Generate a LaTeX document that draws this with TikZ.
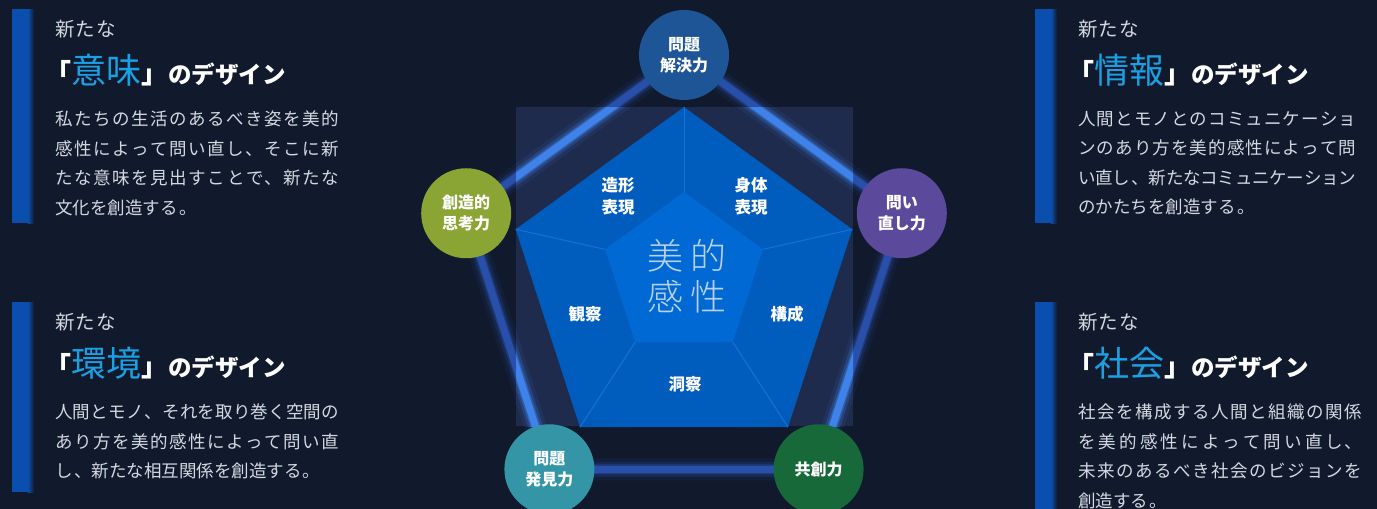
\documentclass[tikz,border=0pt]{standalone}
\usepackage{fontspec}
\setmainfont{Noto Sans CJK JP}
\newfontfamily\lightfont{Noto Sans CJK JP Light}
\XeTeXlinebreaklocale "ja"
\XeTeXlinebreakskip=0pt plus 5pt minus 2pt
\setlength{\parindent}{0pt}

\definecolor{bgnavy}{HTML}{111A2D}
\definecolor{boxnavy}{HTML}{1E2B4D}
\definecolor{barblue}{HTML}{0B4FAE}
\definecolor{keyblue}{HTML}{1AA0E3}
\definecolor{bodygray}{HTML}{D4D8E0}
\definecolor{glowdim}{HTML}{2850AA}
\definecolor{glowlit}{HTML}{3F82EA}
\definecolor{pentdark}{HTML}{004A9C}
\definecolor{pentmid}{HTML}{005DBE}
\definecolor{pentcore}{HTML}{0069D3}
\definecolor{pentline}{HTML}{1A70D8}
\definecolor{sensetext}{HTML}{B8D2EE}
\definecolor{skillblue}{HTML}{1D5597}
\definecolor{skillpurple}{HTML}{5B4A9C}
\definecolor{skillgreen}{HTML}{17693A}
\definecolor{skillteal}{HTML}{3495A7}
\definecolor{skillolive}{HTML}{8AA533}

\pgfdeclareradialshading{pentshade}{\pgfpoint{0bp}{0bp}}{color(0bp)=(pentmid); color(25bp)=(pentmid); color(50bp)=(pentdark)}

\newcommand{\keyword}[1]{{\mdseries\fontsize{35}{35}\selectfont\color{keyblue}#1}}
\newcommand{\kakko}[1]{{\fontsize{27}{27}\selectfont #1}}

\begin{document}
\begin{tikzpicture}[x=1pt, y=-1pt,
    glow/.style={draw=#1, line width=7pt,
        preaction={draw=#1, line width=22pt, opacity=0.1},
        preaction={draw=#1, line width=15pt, opacity=0.22},
        preaction={draw=#1, line width=10pt, opacity=0.45}},
    skill/.style={circle, minimum size=90pt, inner sep=0pt, text=white, align=center,
        font=\bfseries\fontsize{16}{21}\selectfont},
    facet/.style={text=white, align=center, font=\bfseries\fontsize{16.5}{22}\selectfont},
    kicker/.style={anchor=base west, inner sep=0pt, text=bodygray,
        font=\fontsize{19.5}{19.5}\selectfont\addfontfeature{LetterSpace=6}},
    heading/.style={anchor=base west, inner sep=0pt, text=white,
        font=\bfseries\fontsize{23.5}{23.5}\selectfont},
    body/.style={anchor=north west, inner sep=0pt, text width=284pt, align=justify, text=bodygray,
        font=\fontsize{17.5}{29.4}\selectfont\addfontfeature{LetterSpace=8}}]

    \useasboundingbox (0,0) rectangle (1377,509);
    \fill[bgnavy] (0,0) rectangle (1377,509);

    % skill ring
    \coordinate (kaiketsu-c) at ([shift={(684,284)}]-90:229);
    \coordinate (toinaoshi-c) at ([shift={(684,284)}]-18:229);
    \coordinate (kyousou-c) at ([shift={(684,284)}]54:229);
    \coordinate (hakken-c) at ([shift={(684,284)}]126:229);
    \coordinate (souzou-c) at ([shift={(684,284)}]198:229);
    \draw[glow=glowdim] (kaiketsu-c) -- (toinaoshi-c) -- (kyousou-c) -- (hakken-c) -- (souzou-c) -- cycle;

    % box behind the pentagon
    \fill[boxnavy] (516,107) rectangle (853,426);
    \begin{scope}
        \clip (516,107) rectangle (853,426);
        \draw[glow=glowlit] (kaiketsu-c) -- (toinaoshi-c) -- (kyousou-c) -- (hakken-c) -- (souzou-c) -- cycle;
    \end{scope}

    % pentagon
    \foreach \a [count=\i] in {-90,-18,54,126,198} {
        \coordinate (o\i) at ([shift={(684,284)}]\a:177);
        \coordinate (n\i) at ([shift={(684,275)}]\a:83);
    }
    \shade[shading=pentshade] (o1) -- (o2) -- (o3) -- (o4) -- (o5) -- cycle;
    \foreach \i in {1,...,5}
        \draw[pentline, line width=1pt] (n\i) -- (o\i);
    \fill[pentcore] (n1) -- (n2) -- (n3) -- (n4) -- (n5) -- cycle;

    \node[facet] (zoukei) at (618,196) {造形\\表現};
    \node[facet] (shintai) at (751,196) {身体\\表現};
    \node[facet] (kansatsu) at (585,314) {観察};
    \node[facet] (kousei) at (787,314) {構成};
    \node[facet] (dousatsu) at (685,384) {洞察};
    \node[text=sensetext, align=center, font=\lightfont\fontsize{36}{41}\selectfont\addfontfeature{LetterSpace=17}]
        (biteki) at (687,276) {美的\\感性};

    \node[skill, fill=skillblue] (kaiketsu) at (kaiketsu-c) {問題\\解決力};
    \node[skill, fill=skillpurple] (toinaoshi) at (toinaoshi-c) {問い\\直し力};
    \node[skill, fill=skillgreen] (kyousou) at (kyousou-c) {共創力};
    \node[skill, fill=skillteal] (hakken) at (hakken-c) {問題\\発見力};
    \node[skill, fill=skillolive] (souzou) at (souzou-c) {創造的\\思考力};

    % 意味
    \begin{scope}[shift={(0,0)}]
        \fill[barblue] (12,9) rectangle (28,223);
        \shade[left color=barblue, right color=bgnavy] (28,9) rectangle (34,223);
        \node[kicker] (imi-kicker) at (55,36) {新たな};
        \node[heading] (imi-head) at (44,83) {\kakko{「}\keyword{意味}\kakko{」}のデザイン};
        \node[body] (imi-body) at (55,111) {私たちの生活のあるべき姿を美的\linebreak
            感性によって問い直し、そこに新\linebreak
            たな意味を見出すことで、新たな\linebreak
            文化を創造する。};
    \end{scope}

    % 環境
    \begin{scope}[shift={(0,293)}]
        \fill[barblue] (12,9) rectangle (28,199);
        \shade[left color=barblue, right color=bgnavy] (28,9) rectangle (34,199);
        \node[kicker] (kankyou-kicker) at (55,36) {新たな};
        \node[heading] (kankyou-head) at (44,83) {\kakko{「}\keyword{環境}\kakko{」}のデザイン};
        \node[body] (kankyou-body) at (55,111) {人間とモノ、それを取り巻く空間の\linebreak
            あり方を美的感性によって問い直\linebreak
            し、新たな相互関係を創造する。};
    \end{scope}

    % 情報
    \begin{scope}[shift={(1023,0)}]
        \fill[barblue] (12,9) rectangle (28,223);
        \shade[left color=barblue, right color=bgnavy] (28,9) rectangle (34,223);
        \node[kicker] (jouhou-kicker) at (55,36) {新たな};
        \node[heading] (jouhou-head) at (44,83) {\kakko{「}\keyword{情報}\kakko{」}のデザイン};
        \node[body, text width=278pt] (jouhou-body) at (55,111) {人間とモノとのコミュニケーショ\linebreak
            ンのあり方を美的感性によって問\linebreak
            い直し、新たなコミュニケーション\linebreak
            のかたちを創造する。};
    \end{scope}

    % 社会
    \begin{scope}[shift={(1023,293)}]
        \fill[barblue] (12,9) rectangle (28,230);
        \shade[left color=barblue, right color=bgnavy] (28,9) rectangle (34,230);
        \node[kicker] (shakai-kicker) at (55,36) {新たな};
        \node[heading] (shakai-head) at (44,83) {\kakko{「}\keyword{社会}\kakko{」}のデザイン};
        \node[body] (shakai-body) at (55,111) {社会を構成する人間と組織の関係\linebreak
            を美的感性によって問い直し、\linebreak
            未来のあるべき社会のビジョンを\linebreak
            創造する。};
    \end{scope}
\end{tikzpicture}
\end{document}
